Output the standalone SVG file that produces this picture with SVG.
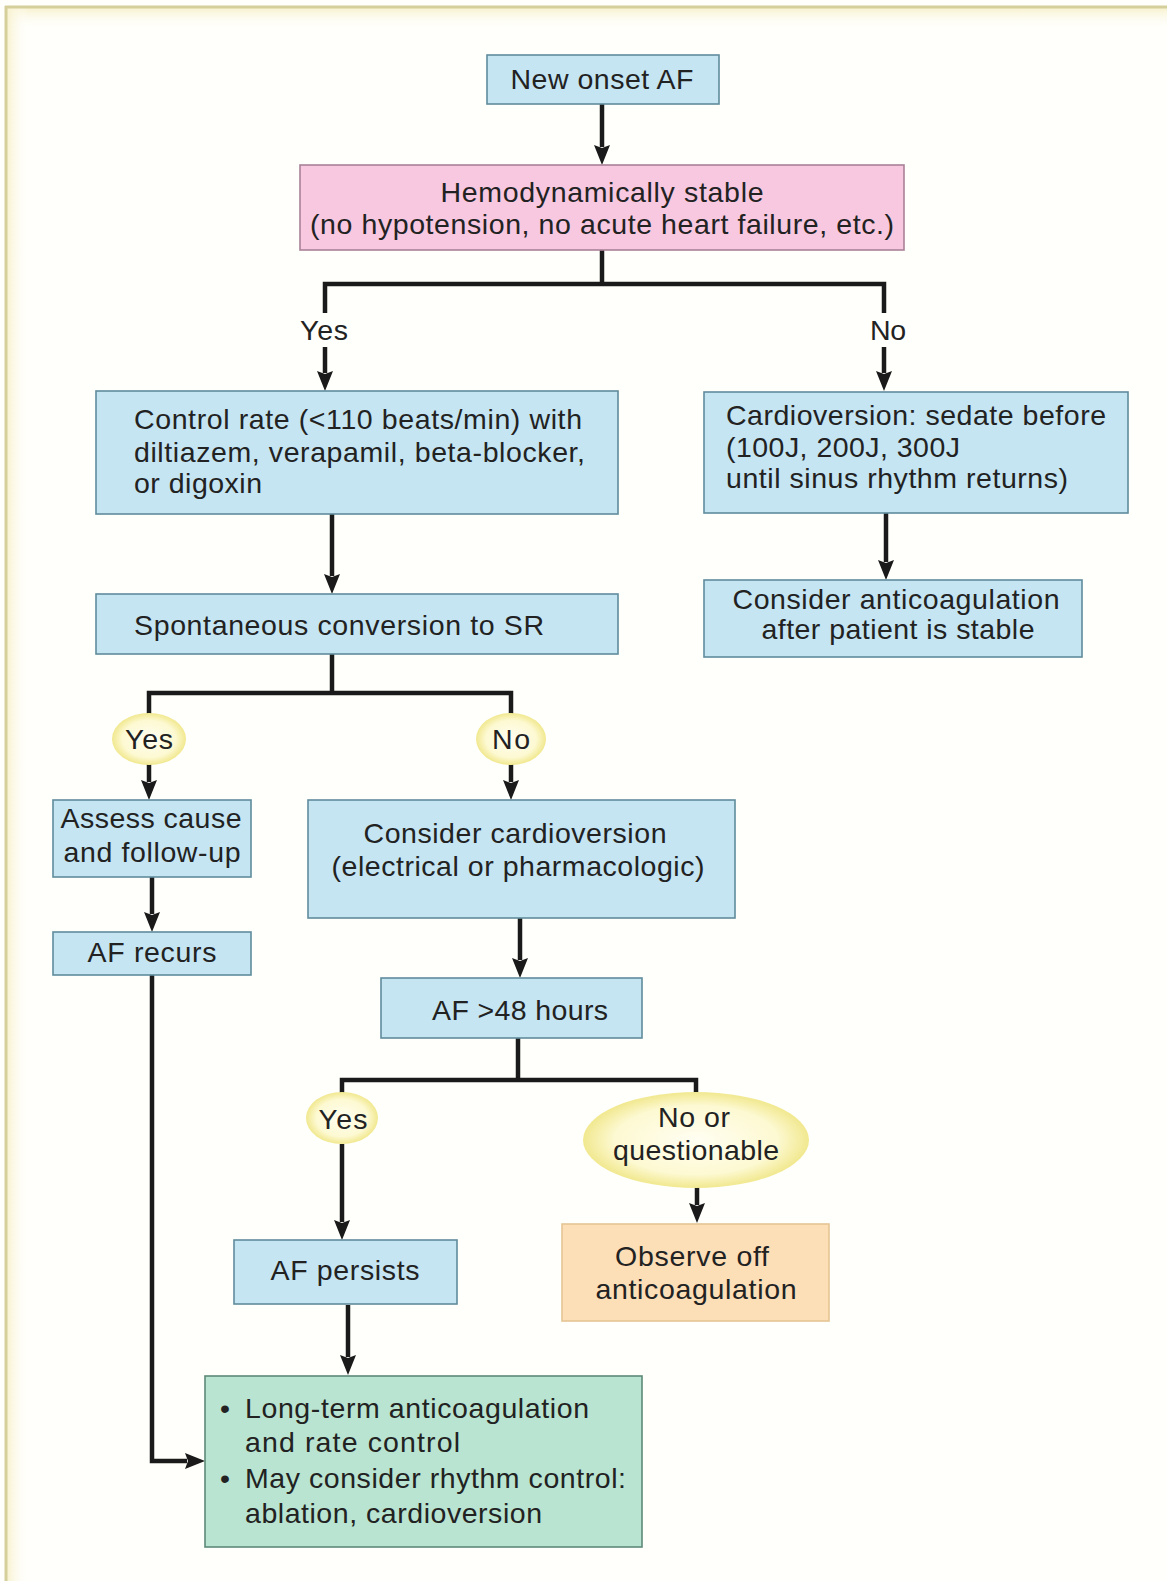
<svg xmlns="http://www.w3.org/2000/svg" width="1167" height="1581" viewBox="0 0 1167 1581">
<defs>
<style>
text{font-family:"Liberation Sans",Arial,Helvetica,sans-serif;font-size:28.5px;fill:#222;}
.c{text-anchor:middle;}
.blue{fill:#c5e5f3;stroke:#5f8c9c;stroke-width:1.6;}
.pink{fill:#f7c8e0;stroke:#a98198;stroke-width:1.6;}
.green{fill:#b9e4d1;stroke:#5d8a78;stroke-width:1.6;}
.peach{fill:#fcdeb7;stroke:#e5c594;stroke-width:1.6;}
.yel{fill:url(#yg);}
.ln{fill:none;stroke:#1a1a1a;stroke-width:4.5;stroke-linejoin:miter;}
.ar{fill:none;stroke:#1a1a1a;stroke-width:4.5;marker-end:url(#ah);}
</style>
<marker id="ah" viewBox="0 0 20 16" markerWidth="20" markerHeight="16" refX="2" refY="8" orient="auto" markerUnits="userSpaceOnUse">
<path d="M0,0 L20,8 L0,16 L3,8 z" fill="#1a1a1a"/>
</marker>
<radialGradient id="yg" cx="50%" cy="50%" r="50%">
<stop offset="0%" stop-color="#fffef2"/>
<stop offset="72%" stop-color="#fdf9d2"/>
<stop offset="100%" stop-color="#f1e88f"/>
</radialGradient>
<linearGradient id="topg" x1="0" y1="0" x2="0" y2="1">
<stop offset="0%" stop-color="#f8f2cf"/>
<stop offset="100%" stop-color="#ffffff" stop-opacity="0"/>
</linearGradient>
<linearGradient id="leftg" x1="0" y1="0" x2="1" y2="0">
<stop offset="0%" stop-color="#f8f2cf"/>
<stop offset="100%" stop-color="#ffffff" stop-opacity="0"/>
</linearGradient>
</defs>
<rect x="0" y="0" width="1167" height="1581" fill="#fffffb"/>
<rect x="6" y="8" width="1161" height="22" fill="url(#topg)"/>
<rect x="7" y="8" width="22" height="1573" fill="url(#leftg)"/>
<line x1="5" y1="7" x2="1167" y2="7" stroke="#d5cf9c" stroke-width="3"/>
<line x1="6" y1="6" x2="6" y2="1581" stroke="#d5cf9c" stroke-width="3"/>

<g id="connectors">
<path class="ar" d="M602,104 V147"/>
<path class="ln" d="M602,250 V284"/>
<path class="ln" d="M325,313 V284 H884 V313"/>
<path class="ar" d="M325,347 V373"/>
<path class="ar" d="M884,347 V373"/>
<path class="ar" d="M332,514 V576"/>
<path class="ar" d="M886,513 V562"/>
<path class="ln" d="M332,654 V693"/>
<path class="ln" d="M149,730 V693 H511 V730"/>
<path class="ar" d="M149,764 V782"/>
<path class="ar" d="M511,764 V782"/>
<path class="ar" d="M152,877 V914"/>
<path class="ar" d="M520,918 V960"/>
<path class="ln" d="M518,1038 V1080"/>
<path class="ln" d="M342,1110 V1080 H696 V1110"/>
<path class="ar" d="M342,1144 V1222"/>
<path class="ar" d="M697,1187 V1205"/>
<path class="ar" d="M348,1305 V1357"/>
<path class="ar" d="M152,975 V1461 H187"/>
</g>

<g id="label-yes-1"><text class="c" x="324" y="340" textLength="48" lengthAdjust="spacing">Yes</text></g>
<g id="label-no-1"><text class="c" x="888" y="340" textLength="36" lengthAdjust="spacing">No</text></g>

<g id="n-new-onset">
<rect class="blue" x="487" y="55" width="232" height="49"/>
<text class="c" x="602" y="89" textLength="183" lengthAdjust="spacing">New onset AF</text>
</g>

<g id="n-hemo">
<rect class="pink" x="300" y="165" width="604" height="85"/>
<text class="c" x="602" y="202" textLength="323" lengthAdjust="spacing">Hemodynamically stable</text>
<text class="c" x="602" y="234" textLength="584" lengthAdjust="spacing">(no hypotension, no acute heart failure, etc.)</text>
</g>

<g id="n-control-rate">
<rect class="blue" x="96" y="391" width="522" height="123"/>
<text x="134" y="429" textLength="448" lengthAdjust="spacing">Control rate (&lt;110 beats/min) with</text>
<text x="134" y="462" textLength="451" lengthAdjust="spacing">diltiazem, verapamil, beta-blocker,</text>
<text x="134" y="493" textLength="128" lengthAdjust="spacing">or digoxin</text>
</g>

<g id="n-cardioversion">
<rect class="blue" x="704" y="392" width="424" height="121"/>
<text x="726" y="425" textLength="380" lengthAdjust="spacing">Cardioversion: sedate before</text>
<text x="726" y="457" textLength="234" lengthAdjust="spacing">(100J, 200J, 300J</text>
<text x="726" y="488" textLength="342" lengthAdjust="spacing">until sinus rhythm returns)</text>
</g>

<g id="n-consider-anticoag">
<rect class="blue" x="704" y="580" width="378" height="77"/>
<text class="c" x="896" y="609" textLength="327" lengthAdjust="spacing">Consider anticoagulation</text>
<text class="c" x="898" y="639" textLength="273" lengthAdjust="spacing">after patient is stable</text>
</g>

<g id="n-spontaneous">
<rect class="blue" x="96" y="594" width="522" height="60"/>
<text x="134" y="635" textLength="410" lengthAdjust="spacing">Spontaneous conversion to SR</text>
</g>

<g id="n-yes-2">
<ellipse class="yel" cx="149" cy="739" rx="37" ry="26"/>
<text class="c" x="149" y="749" textLength="48" lengthAdjust="spacing">Yes</text>
</g>

<g id="n-no-2">
<ellipse class="yel" cx="511" cy="739" rx="35" ry="26"/>
<text class="c" x="511" y="749" textLength="38" lengthAdjust="spacing">No</text>
</g>

<g id="n-assess">
<rect class="blue" x="53" y="800" width="198" height="77"/>
<text class="c" x="151" y="828" textLength="181" lengthAdjust="spacing">Assess cause</text>
<text class="c" x="152" y="862" textLength="177" lengthAdjust="spacing">and follow-up</text>
</g>

<g id="n-af-recurs">
<rect class="blue" x="53" y="932" width="198" height="43"/>
<text class="c" x="152" y="962" textLength="129" lengthAdjust="spacing">AF recurs</text>
</g>

<g id="n-consider-cardioversion">
<rect class="blue" x="308" y="800" width="427" height="118"/>
<text class="c" x="515" y="843" textLength="303" lengthAdjust="spacing">Consider cardioversion</text>
<text class="c" x="518" y="876" textLength="373" lengthAdjust="spacing">(electrical or pharmacologic)</text>
</g>

<g id="n-af48">
<rect class="blue" x="381" y="978" width="261" height="60"/>
<text class="c" x="520" y="1020" textLength="176" lengthAdjust="spacing">AF &gt;48 hours</text>
</g>

<g id="n-yes-3">
<ellipse class="yel" cx="342" cy="1118" rx="36" ry="26"/>
<text class="c" x="343" y="1129" textLength="49" lengthAdjust="spacing">Yes</text>
</g>

<g id="n-no-questionable">
<ellipse class="yel" cx="696" cy="1140" rx="113" ry="48"/>
<text class="c" x="694" y="1127" textLength="72" lengthAdjust="spacing">No or</text>
<text class="c" x="696" y="1160" textLength="166" lengthAdjust="spacing">questionable</text>
</g>

<g id="n-af-persists">
<rect class="blue" x="234" y="1240" width="223" height="64"/>
<text class="c" x="345" y="1280" textLength="149" lengthAdjust="spacing">AF persists</text>
</g>

<g id="n-observe">
<rect class="peach" x="562" y="1224" width="267" height="97"/>
<text class="c" x="692" y="1266" textLength="154" lengthAdjust="spacing">Observe off</text>
<text class="c" x="696" y="1299" textLength="201" lengthAdjust="spacing">anticoagulation</text>
</g>

<g id="n-long-term">
<rect class="green" x="205" y="1376" width="437" height="171"/>
<text x="220" y="1418">•</text>
<text x="245" y="1418" textLength="344" lengthAdjust="spacing">Long-term anticoagulation</text>
<text x="245" y="1452" textLength="215" lengthAdjust="spacing">and rate control</text>
<text x="220" y="1488">•</text>
<text x="245" y="1488" textLength="381" lengthAdjust="spacing">May consider rhythm control:</text>
<text x="245" y="1523" textLength="297" lengthAdjust="spacing">ablation, cardioversion</text>
</g>
</svg>
